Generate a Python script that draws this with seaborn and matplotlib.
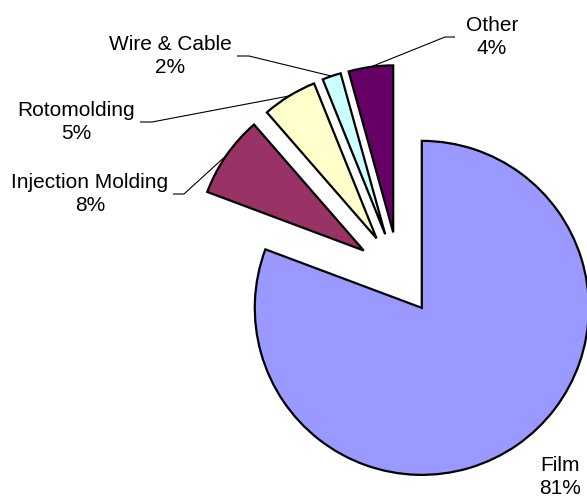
import numpy as np
import matplotlib
matplotlib.use("Agg")
import matplotlib.pyplot as plt
import seaborn as sns

# --- data ---
segments = ['Film', 'Injection Molding', 'Rotomolding', 'Wire & Cable', 'Other']
shares = [80.7, 7.9, 5.3, 1.8, 4.3]
colors = ['#9999FF', '#993366', '#FFFFCC', '#CCFFFF', '#660066']

# --- layout (axes works in pixel-like units, 587 x 500) ---
W, H = 587, 500
R = 167
center = (399, 225)
explode = [40, 43, 43, 43, 43]
label_xy = [(560, 23), (90, 306), (76, 378), (170, 444), (492, 463)]
# horizontal stub of each leader line (x start, x end); None = no leader
stubs = [None, (173, 184), (140, 152), (237, 249), (455, 445)]

sns.set_theme(style="white")
plt.rcParams['font.family'] = ['Liberation Sans', 'DejaVu Sans']

fig = plt.figure(figsize=(W / 100, H / 100), dpi=100)
ax = fig.add_axes([0, 0, 1, 1])

wedges, _ = ax.pie(shares, explode=explode, colors=colors, startangle=90,
                   counterclock=False, radius=R, center=center, frame=True,
                   wedgeprops=dict(edgecolor='black', linewidth=1.6))

ax.set_xlim(0, W)
ax.set_ylim(0, H)
ax.set_aspect('equal')
ax.axis('off')

for name, val, (lx, ly), stub, w in zip(segments, shares, label_xy, stubs, wedges):
    ax.text(lx, ly, f"{name}\n{val:.0f}%", ha='center', va='center',
            multialignment='center', fontsize=15, color='black', linespacing=1.32)
    if stub is None:
        continue
    # leader goes from the label stub to the outer arc at the wedge middle
    theta = np.deg2rad((w.theta1 + w.theta2) / 2)
    cx, cy = w.center
    ax_, ay_ = cx + R * np.cos(theta), cy + R * np.sin(theta)
    ax.plot([stub[0], stub[1], ax_], [ly, ly, ay_], color='black', lw=0.8,
            solid_capstyle='butt', zorder=0.5)

fig.savefig('out.png', dpi=100)
